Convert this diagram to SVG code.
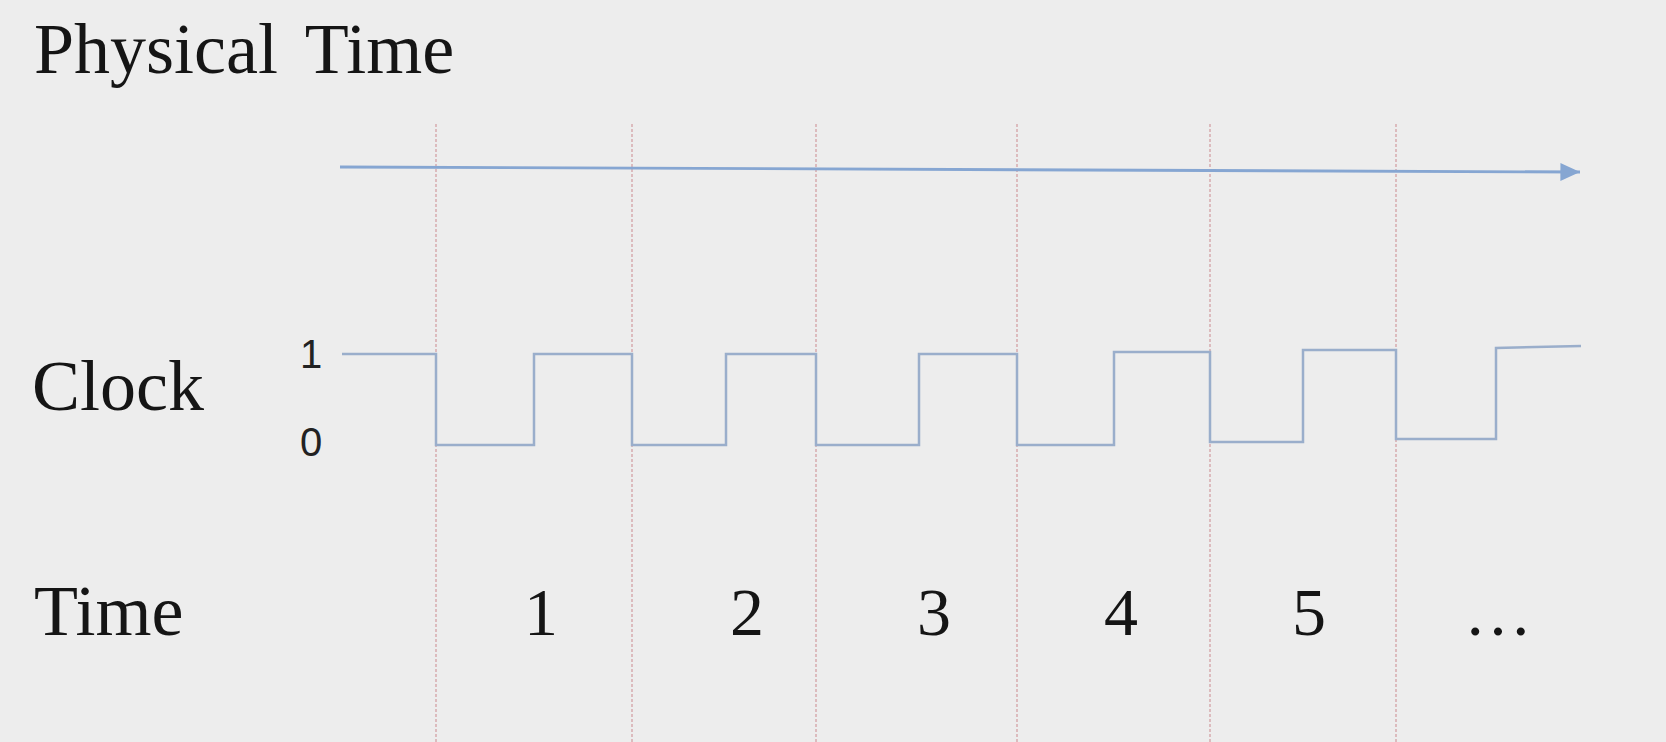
<svg xmlns="http://www.w3.org/2000/svg" width="1666" height="742" viewBox="0 0 1666 742">
  <style>
    .lbl { font-family: "Liberation Serif", "Times New Roman", serif; fill: #151515; }
    .big { font-size: 72px; }
    .num { font-size: 68px; text-anchor: middle; }
    .lvl { font-family: "Liberation Sans", Arial, sans-serif; font-size: 40px; fill: #222; text-anchor: middle; }
    .grid { stroke: #d19a9e; stroke-width: 1.2; stroke-dasharray: 3 2; fill: none; }
    .wave { stroke: #9aaecb; stroke-width: 2.5; fill: none; stroke-linejoin: miter; }
    .axis { stroke: #86a6d2; stroke-width: 2.8; fill: none; }
  </style>
  <defs>
    <marker id="arrow" markerWidth="8" markerHeight="8" refX="7" refY="4" orient="auto" markerUnits="strokeWidth">
      <path d="M0,0.8 L7,4 L0,7.2 Z" fill="#86a6d2"/>
    </marker>
  </defs>
  <rect x="0" y="0" width="1666" height="742" fill="#ededed"/>

  <g id="title">
    <text class="lbl big" x="34" y="73" word-spacing="10">Physical Time</text>
  </g>

  <g id="row-labels">
    <text class="lbl big" x="32" y="410">Clock</text>
    <text class="lbl big" x="34" y="635">Time</text>
  </g>

  <g id="levels">
    <text class="lvl" x="311" y="368">1</text>
    <text class="lvl" x="311" y="456">0</text>
  </g>

  <g id="grid">
    <line class="grid" x1="436" y1="124" x2="436" y2="742"/>
    <line class="grid" x1="632" y1="124" x2="632" y2="742"/>
    <line class="grid" x1="816" y1="124" x2="816" y2="742"/>
    <line class="grid" x1="1017" y1="124" x2="1017" y2="742"/>
    <line class="grid" x1="1210" y1="124" x2="1210" y2="742"/>
    <line class="grid" x1="1396" y1="124" x2="1396" y2="742"/>
  </g>

  <g id="connectors">
    <line class="axis" x1="340" y1="167" x2="1580" y2="172" marker-end="url(#arrow)"/>
    <path class="wave" d="M342,354 H436 V445 H534 V354 H632 V445 H726 V354 H816 V445 H919 V354 H1017 V445 H1114 V352 H1210 V442 H1303 V350 H1396 V439 H1496 V348 L1581,346"/>
  </g>

  <g id="time-labels">
    <text class="lbl num" x="541" y="635">1</text>
    <text class="lbl num" x="747" y="635">2</text>
    <text class="lbl num" x="934" y="635">3</text>
    <text class="lbl num" x="1121" y="635">4</text>
    <text class="lbl num" x="1309" y="635">5</text>
    <text class="lbl num" x="1498" y="635">…</text>
  </g>
</svg>
